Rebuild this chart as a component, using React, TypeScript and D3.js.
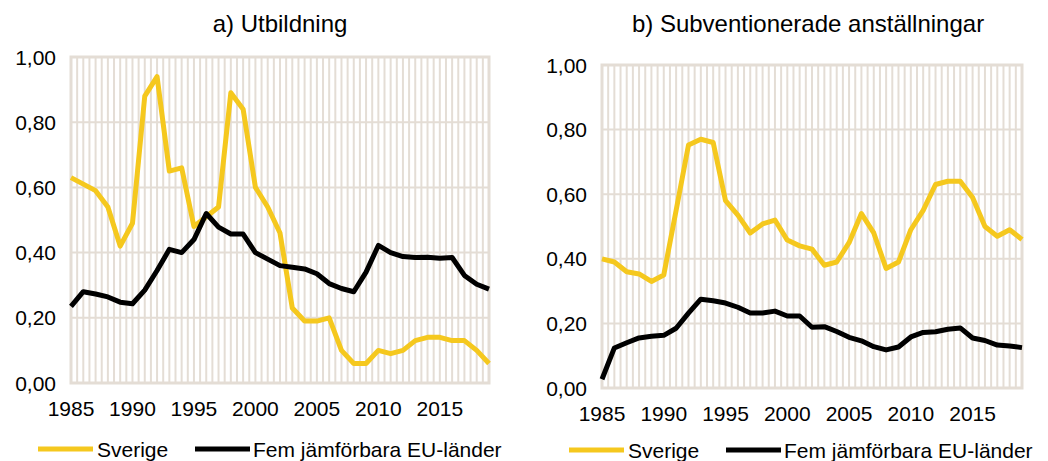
import React from "react";
import * as d3 from "d3";

// years 1985-2019
const years = d3.range(1985, 2020);
const xTicks = [1985, 1990, 1995, 2000, 2005, 2010, 2015];
const yTicks = [0, 0.2, 0.4, 0.6, 0.8, 1.0];

// a) Utbildning
const utbSverige = [
  0.63, 0.61, 0.59, 0.54, 0.42, 0.49, 0.88, 0.94, 0.65, 0.66,
  0.48, 0.51, 0.54, 0.89, 0.84, 0.6, 0.54, 0.46, 0.23, 0.19,
  0.19, 0.2, 0.1, 0.06, 0.06, 0.1, 0.09, 0.1, 0.13, 0.14,
  0.14, 0.13, 0.13, 0.1, 0.06,
];
const utbEU = [
  0.235, 0.28, 0.273, 0.264, 0.248, 0.243, 0.285, 0.345, 0.41, 0.4,
  0.44, 0.52, 0.478, 0.457, 0.457, 0.4, 0.38, 0.36, 0.355, 0.35,
  0.335, 0.305, 0.29, 0.28, 0.34, 0.422, 0.4, 0.388, 0.385, 0.386,
  0.383, 0.385, 0.33, 0.303, 0.288,
];

// b) Subventionerade anställningar
const subSverige = [
  0.4, 0.39, 0.36, 0.353, 0.33, 0.35, 0.55, 0.752, 0.77, 0.76,
  0.58, 0.535, 0.48, 0.508, 0.52, 0.458, 0.44, 0.43, 0.38, 0.39,
  0.45, 0.54, 0.48, 0.37, 0.39, 0.49, 0.55, 0.63, 0.64, 0.64,
  0.59, 0.5, 0.47, 0.49, 0.46,
];
const subEU = [
  0.027, 0.124, 0.14, 0.155, 0.16, 0.163, 0.185, 0.232, 0.275, 0.27,
  0.263, 0.25, 0.232, 0.232, 0.238, 0.223, 0.223, 0.188, 0.19, 0.175,
  0.157, 0.146, 0.128, 0.118, 0.127, 0.158, 0.172, 0.174, 0.182, 0.186,
  0.155, 0.147, 0.133, 0.13, 0.125,
];

const YELLOW = "#F5C81E";
const BLACK = "#000000";
const GRID = "#E4DDD5";
const FONT = "'Liberation Sans', Arial, sans-serif";

const fmt = (v: number) => d3.format(".2f")(v).replace(".", ",");

type PanelProps = {
  title: string;
  titleX: number;
  left: number;
  right: number;
  top: number;
  bottom: number;
  sverige: number[];
  eu: number[];
  tickBase: number;
  legendY: number;
  legendX: number;
};

function Panel(p: PanelProps) {
  const x = d3.scaleLinear().domain([1985, 2019]).range([p.left, p.right]);
  const y = d3.scaleLinear().domain([0, 1]).range([p.bottom, p.top]);
  const line = d3
    .line<number>()
    .x((d, i) => x(years[i]))
    .y((d) => y(d));
  const halfYears = d3.range(1985, 2019.01, 0.5);

  return (
    <g>
      <text x={p.titleX} y={32} textAnchor="middle" fontSize={24} fill="#000">
        {p.title}
      </text>
      {/* grid */}
      {halfYears.map((v) => (
        <line key={"v" + v} x1={x(v)} x2={x(v)} y1={p.top} y2={p.bottom} stroke={GRID} strokeWidth={2} />
      ))}
      {yTicks.map((v) => (
        <line key={"h" + v} x1={p.left} x2={p.right} y1={y(v)} y2={y(v)} stroke={GRID} strokeWidth={2} />
      ))}
      <rect x={p.left} y={p.top} width={p.right - p.left} height={p.bottom - p.top} fill="none" stroke={GRID} strokeWidth={3} />
      {/* y labels */}
      {yTicks.map((v) => (
        <text key={"yl" + v} x={p.left - 15} y={y(v)} dy="0.36em" textAnchor="end" fontSize={21}>
          {fmt(v)}
        </text>
      ))}
      {xTicks.map((v) => (
        <text key={"xl" + v} x={x(v)} y={p.tickBase} textAnchor="middle" fontSize={21}>
          {v}
        </text>
      ))}
      <path d={line(p.sverige) || ""} fill="none" stroke={YELLOW} strokeWidth={5} strokeLinejoin="round" />
      <path d={line(p.eu) || ""} fill="none" stroke={BLACK} strokeWidth={5} strokeLinejoin="round" />
      {/* legend */}
      <g transform={`translate(${p.legendX},${p.legendY})`}>
        <line x1={0} x2={55} y1={0} y2={0} stroke={YELLOW} strokeWidth={5} />
        <text x={59} y={0} dy="0.36em" fontSize={21}>Sverige</text>
        <line x1={157} x2={212} y1={0} y2={0} stroke={BLACK} strokeWidth={5} />
        <text x={215} y={0} dy="0.36em" fontSize={21}>Fem jämförbara EU-länder</text>
      </g>
    </g>
  );
}

export default function App() {
  return (
    <svg
      width={1048}
      height={461}
      style={{ position: "absolute", left: 0, top: 0, background: "#fff" }}
      fontFamily={FONT}
    >
      <Panel
        title="a) Utbildning"
        titleX={280}
        left={71}
        right={489}
        top={57}
        bottom={383}
        sverige={utbSverige}
        eu={utbEU}
        tickBase={416}
        legendX={38}
        legendY={449}
      />
      <Panel
        title="b) Subventionerade anställningar"
        titleX={808}
        left={602}
        right={1022}
        top={65}
        bottom={388}
        sverige={subSverige}
        eu={subEU}
        tickBase={421}
        legendX={569}
        legendY={450}
      />
    </svg>
  );
}
